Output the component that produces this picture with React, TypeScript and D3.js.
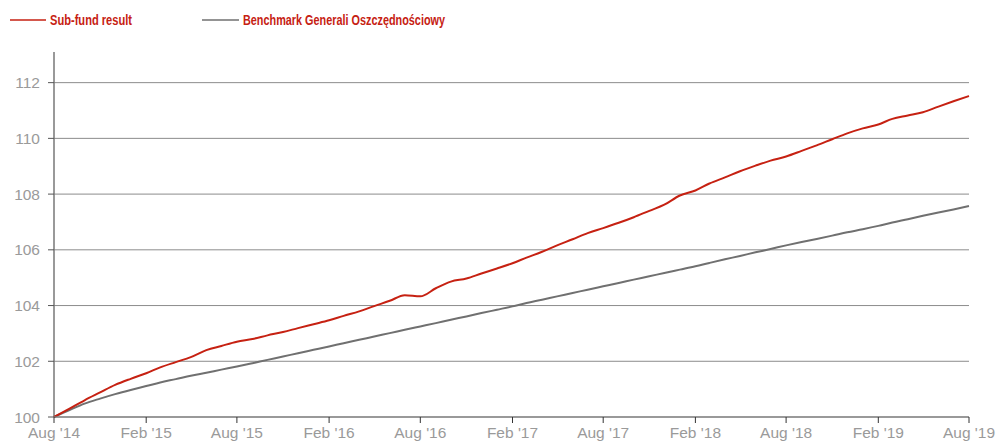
import React from "react";
import * as d3 from "d3";

// monthly values, Aug 2014 .. Aug 2019
const subFund = [
  100.0, 100.3, 100.6, 100.88, 101.15, 101.37, 101.57, 101.78, 101.97, 102.15,
  102.4, 102.55, 102.7, 102.8, 102.93, 103.05, 103.19, 103.33, 103.47, 103.63,
  103.79, 103.98, 104.17, 104.37, 104.33, 104.62, 104.86, 104.97, 105.15, 105.33,
  105.52, 105.72, 105.93, 106.16, 106.38, 106.6, 106.78, 106.97, 107.17, 107.4,
  107.62, 107.95, 108.13, 108.38, 108.6, 108.82, 109.02, 109.2, 109.35, 109.55,
  109.75, 109.97, 110.18, 110.36, 110.5, 110.7, 110.82, 110.94, 111.14, 111.33,
  111.52,
];

const benchmark = [
  100.0, 100.25, 100.48, 100.66, 100.82, 100.97, 101.11, 101.24, 101.36, 101.48,
  101.59, 101.7, 101.81, 101.93, 102.05, 102.17, 102.29, 102.41, 102.53, 102.65,
  102.77, 102.89, 103.01, 103.13, 103.25, 103.37, 103.49, 103.61, 103.73, 103.85,
  103.97, 104.09, 104.21, 104.33, 104.45, 104.57, 104.69, 104.81, 104.93, 105.05,
  105.17, 105.29, 105.41, 105.53, 105.66, 105.78, 105.91, 106.03, 106.16, 106.28,
  106.39, 106.51, 106.63, 106.74, 106.86, 106.98, 107.1, 107.22, 107.34, 107.45,
  107.57,
];

const xTickLabels = [
  "Aug '14", "Feb '15", "Aug '15", "Feb '16", "Aug '16", "Feb '17",
  "Aug '17", "Feb '18", "Aug '18", "Feb '19", "Aug '19",
];
const yTicks = [100, 102, 104, 106, 108, 110, 112];

const seriesNames = ["Sub-fund result", "Benchmark Generali Oszczędnościowy"];

const W = 996;
const H = 441;
const RED = "#c62112";
const GREY = "#707070";
const LABEL = "#9a9a9a";
const tickFont = "'Liberation Sans', Arial, sans-serif";

export default function App() {
  const start = new Date(2014, 7, 1);
  const end = new Date(2019, 7, 1);
  const months = d3.timeMonth.range(start, d3.timeMonth.offset(end, 1));
  const tickDates = d3.timeMonth.range(start, d3.timeMonth.offset(end, 1), 6);

  const x = d3.scaleTime().domain([start, end]).range([54, 969]);
  const y = d3.scaleLinear().domain([100, 113.1]).range([417, 52]);

  const line = d3
    .line<number>()
    .x((_, i) => x(months[i]))
    .y((d) => y(d))
    .curve(d3.curveMonotoneX);

  const x0 = x.range()[0];
  const x1 = x.range()[1];

  return (
    <svg
      width={W}
      height={H}
      style={{ position: "absolute", left: 0, top: 0, background: "#fff" }}
    >
      {/* legend: condensed bold, squeezed to the original widths */}
      <g fontFamily={tickFont} fontWeight="bold" fontSize={14.5} fill={RED}>
        <line x1={10} x2={46} y1={20} y2={20} stroke={RED} strokeWidth={1.6} />
        <text x={50} y={25} textLength={82} lengthAdjust="spacingAndGlyphs">
          {seriesNames[0]}
        </text>
        <line x1={202} x2={239} y1={20} y2={20} stroke={GREY} strokeWidth={1.6} />
        <text x={243} y={25} textLength={202} lengthAdjust="spacingAndGlyphs">
          {seriesNames[1]}
        </text>
      </g>

      {/* grid */}
      {yTicks.slice(1).map((t) => (
        <line key={t} x1={x0} x2={x1} y1={y(t)} y2={y(t)} stroke="#8c8c8c" strokeWidth={1} />
      ))}

      {/* y axis */}
      <line x1={x0} x2={x0} y1={y.range()[1]} y2={y(100)} stroke="#777" strokeWidth={1.5} />
      {yTicks.map((t) => (
        <g key={t}>
          <line x1={x0 - 6} x2={x0} y1={y(t)} y2={y(t)} stroke="#555" strokeWidth={1} />
          <text
            x={40}
            y={y(t)}
            dy="0.36em"
            textAnchor="end"
            fontFamily={tickFont}
            fontSize={15.5}
            fill={LABEL}
          >
            {t}
          </text>
        </g>
      ))}

      {/* series */}
      <path d={line(benchmark) ?? ""} fill="none" stroke={GREY} strokeWidth={2} />
      <path d={line(subFund) ?? ""} fill="none" stroke={RED} strokeWidth={2} />

      {/* x axis */}
      <line x1={x0} x2={x1} y1={y(100)} y2={y(100)} stroke="#777" strokeWidth={1.5} />
      {tickDates.map((d, i) => (
        <g key={i}>
          <line x1={x(d)} x2={x(d)} y1={y(100)} y2={y(100) + 6} stroke="#333" strokeWidth={1} />
          <text
            x={x(d)}
            y={438}
            textAnchor="middle"
            fontFamily={tickFont}
            fontSize={15.5}
            fill={LABEL}
          >
            {xTickLabels[i]}
          </text>
        </g>
      ))}
    </svg>
  );
}
